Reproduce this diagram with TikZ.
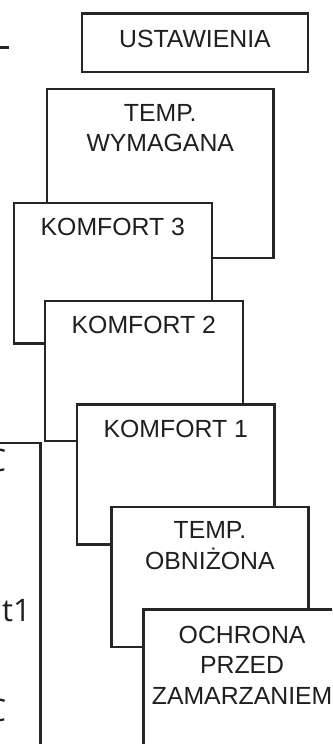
\documentclass[tikz,border=0pt]{standalone}
\usepackage{fontspec}
\setmainfont{Liberation Sans}
\newfontfamily\sidefont{Open Sans}
\begin{document}
\begin{tikzpicture}[x=1pt,y=-1pt,
  framecol/.style={draw=black!85, line width=2.2pt, fill=white},
  menubox/.style={framecol, rectangle, inner sep=0pt, anchor=north west},
  menutext/.style={anchor=north, inner sep=0pt, align=center, text=black!88,
    font=\fontsize{24.8}{30.5}\selectfont},
  sidetext/.style={anchor=base east, inner sep=0pt, text=black!88,
    font=\sidefont\fontsize{31}{36}\selectfont}]
\useasboundingbox (0,0) rectangle (332,744);
\clip (0,0) rectangle (332,744);

% panel on the left, mostly outside the sheet
\node[menubox, minimum width=200pt, minimum height=360pt] (side) at (-160.7,442) {};
\node[sidetext] (s1) at (6.5,471) {C};
\node[sidetext] (s2) at (31,621.7) {t1};
\node[sidetext] (s3) at (6.5,721) {C};

% short lead line in the top left corner
\coordinate (lead0) at (0,47.6);
\coordinate (lead1) at (9.3,47.6);
\draw[black!85, line width=3pt] (lead0) -- (lead1);

% settings header
\node[menubox, minimum width=226.3pt, minimum height=58.4pt] (ust) at (80.7,12.3) {};
\node[menutext] (ustT) at ([yshift=-17.4pt]ust.north) {USTAWIENIA};

% cascade of temperature modes, each one lying over the previous
\node[menubox, minimum width=226.3pt, minimum height=169pt] (wym) at (46,87.7) {};
\node[menutext] (wymT) at ([yshift=-16.3pt]wym.north) {TEMP.\\WYMAGANA};

\node[menubox, minimum width=198pt, minimum height=140.6pt] (k3) at (12.7,201.7) {};
\node[menutext] (k3T) at ([yshift=-16.3pt]k3.north) {KOMFORT 3};

\node[menubox, minimum width=198pt, minimum height=140pt] (k2) at (43.7,300) {};
\node[menutext] (k2T) at ([yshift=-15.7pt]k2.north) {KOMFORT 2};

\node[menubox, minimum width=197.3pt, minimum height=140pt] (k1) at (76,403.3) {};
\node[menutext] (k1T) at ([yshift=-16.4pt]k1.north) {KOMFORT 1};

\node[menubox, minimum width=197pt, minimum height=140.3pt] (obn) at (110.3,505.7) {};
\node[menutext] (obnT) at ([yshift=-15.7pt]obn.north) {TEMP.\\OBNIŻONA};

\node[menubox, minimum width=197.4pt, minimum height=160pt] (och) at (142.3,608.3) {};
\node[menutext] (ochT) at ([yshift=-17.4pt]och.north) {OCHRONA\\PRZED\\ZAMARZANIEM};
\end{tikzpicture}
\end{document}
